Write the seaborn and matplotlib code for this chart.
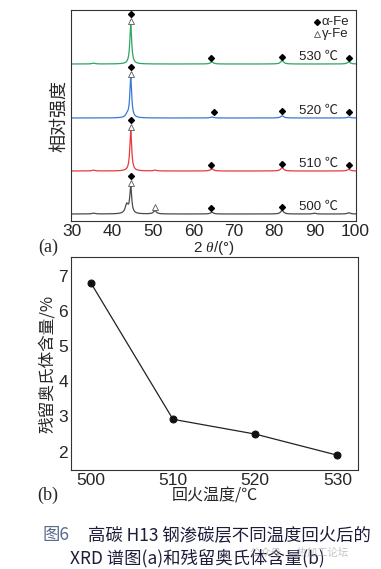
import numpy as np
import pandas as pd
import seaborn as sns
import matplotlib
matplotlib.use("Agg")
import matplotlib.pyplot as plt

sns.set_style("white")
plt.rcParams['font.family'] = ['Liberation Sans Narrow', 'Liberation Sans', 'Noto Sans CJK SC', 'DejaVu Sans']
plt.rcParams['mathtext.fontset'] = 'custom'
plt.rcParams['mathtext.it'] = 'Liberation Serif:italic'

# ---- (a) XRD: peaks ----
temps_xrd = ["500 ℃", "510 ℃", "520 ℃", "530 ℃"]
colors_xrd = ["#4a4a4a", "#e8393c", "#3a78d4", "#2fa463"]
baselines = [7, 50, 103, 157]
# peak positions (2theta) and heights for each curve
peak_pos = [
    [35.3, 43.5, 44.5, 50.5, 64.6, 82.0, 90.0, 98.5],
    [35.3, 44.5, 50.5, 64.6, 82.0, 98.5],
    [43.6, 44.5, 64.6, 82.0, 98.5],
    [35.3, 44.5, 64.6, 82.0, 98.5],
]
peak_hgt = [
    [0.8, 9, 27, 3.2, 1.6, 3.5, 0.8, 1.2],
    [0.8, 40, 0.8, 2.0, 3.2, 1.6],
    [2.5, 40, 1.0, 2.2, 1.0],
    [0.8, 39, 2.0, 3.4, 2.0],
]
alpha_marks = [
    [44.5, 64.5, 82.0],
    [44.5, 64.5, 82.0, 98.5],
    [44.5, 65.0, 82.0, 98.5],
    [44.5, 64.5, 82.0, 98.5],
]
gamma_marks = [[44.5, 50.5], [44.5], [44.5], [44.5]]

# ---- (b) retained austenite ----
temps_b = [500, 510, 520, 530]
austenite = [6.8, 2.92, 2.5, 1.9]

cjk = ['Noto Sans CJK SC', 'DejaVu Sans']

fig = plt.figure(figsize=(3.81, 5.69), dpi=100)
W, H = 381, 569
ax1 = fig.add_axes([71 / W, 1 - 221 / H, 285 / W, 211 / H])
ax2 = fig.add_axes([71 / W, 1 - 470 / H, 287 / W, 213 / H])

theta = np.linspace(29.5, 100.5, 3000)
for i, lab in enumerate(temps_xrd):
    y = np.full_like(theta, baselines[i], dtype=float)
    for p, h in zip(peak_pos[i], peak_hgt[i]):
        w = 0.28 if h > 20 else 0.45
        y += h / (1 + ((theta - p) / w) ** 2)
    df = pd.DataFrame({"x": theta, "y": y})
    sns.lineplot(data=df, x="x", y="y", ax=ax1, color=colors_xrd[i], lw=0.9)
    top = baselines[i] + peak_hgt[i][peak_pos[i].index(44.5)]
    for a in alpha_marks[i]:
        ya = top + 11 if a == 44.5 else baselines[i] + 6
        if a == 82.0:
            ya = baselines[i] + 7
        ax1.plot(a, ya, marker="D", ms=3, color="black", ls="none")
    for g in gamma_marks[i]:
        yg = top + 4 if g == 44.5 else baselines[i] + 7
        ax1.plot(g, yg, marker="^", ms=4, mfc="white", mec="#555555", mew=0.6, ls="none")
    ax1.text(86.2, baselines[i] + 7.5, lab, fontsize=9.5, color="#222222", va="center")

# legend of the phases
ax1.plot(90.6, 199, marker="D", ms=3, color="black")
ax1.text(91.8, 199, "α-Fe", fontsize=9.5, va="center", color="#222222")
ax1.plot(90.6, 187, marker="^", ms=4, mfc="white", mec="#555555", mew=0.6)
ax1.text(91.8, 187, "γ-Fe", fontsize=9.5, va="center", color="#222222")

ax1.set_xlim(29.7, 100.3)
ax1.set_ylim(0, 211)
ax1.set_yticks([])
ax1.set_xticks([30, 40, 50, 60, 70, 80, 90, 100])
ax1.tick_params(axis="x", direction="in", length=3, labelsize=12.5, pad=2)
ax1.set_xlabel(r"2 $\it{θ}$/(°)", fontsize=11, labelpad=0.5)
ax1.set_ylabel("相对强度", fontsize=13, family=cjk, labelpad=2)
for s in ax1.spines.values():
    s.set_color("#333333")
    s.set_linewidth(0.8)

sns.lineplot(x=temps_b, y=austenite, ax=ax2, color="#222222", lw=0.9,
             marker="o", ms=5, mec="#111111", mfc="#111111")
ax2.set_xlim(497.6, 532.5)
ax2.set_ylim(1.48, 7.53)
ax2.set_xticks(temps_b)
ax2.set_yticks([2, 3, 4, 5, 6, 7])
ax2.tick_params(direction="in", length=3, labelsize=12.5, pad=2)
ax2.set_xlabel("回火温度/℃", fontsize=11.5, family=cjk, labelpad=0)
ax2.set_ylabel("残留奥氏体含量/%", fontsize=12, family=cjk, labelpad=2)
for s in ax2.spines.values():
    s.set_color("#333333")
    s.set_linewidth(0.8)

fig.text(48 / W, 1 - 247 / H, "(a)", fontsize=13, family="Liberation Serif", ha="center", va="center")
fig.text(48 / W, 1 - 495 / H, "(b)", fontsize=13, family="Liberation Serif", ha="center", va="center")

fig.text(42 / W, 1 - 535 / H, "图6", fontsize=12.5, family=cjk, color="#5a6a8a", va="center")
fig.text(88 / W, 1 - 535 / H, "高碳 H13 钢渗碳层不同温度回火后的", fontsize=12.5, family=cjk,
         color="#1c1c3a", va="center")
fig.text(70 / W, 1 - 558 / H, "XRD 谱图(a)和残留奥氏体含量(b)", fontsize=12.5, family=cjk,
         color="#1c1c3a", va="center")
fig.text(250 / W, 1 - 553 / H, "公众号 · 热加工论坛", fontsize=7.5, family=cjk,
         color="#9a9a9a", alpha=0.6, va="center")

fig.savefig("out.png", dpi=100)
